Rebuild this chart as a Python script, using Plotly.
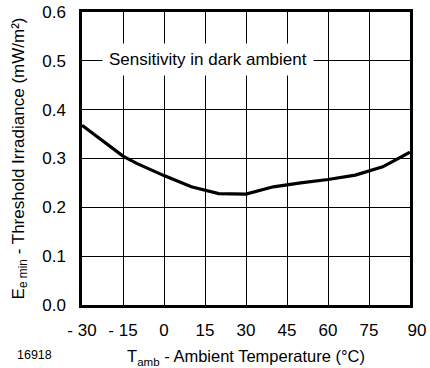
import plotly.graph_objects as go

temp_c = [-30, -20, -15, -10, 0, 10, 20, 30, 40, 50, 60, 70, 80, 90]
threshold_irradiance = [0.368, 0.325, 0.305, 0.290, 0.265, 0.242, 0.228, 0.227, 0.242, 0.250, 0.257, 0.266, 0.283, 0.313]

x_tickvals = [-30, -15, 0, 15, 30, 45, 60, 75, 90]
x_ticktext = ["- 30", "- 15", "0", "15", "30", "45", "60", "75", "\u00a0\u00a0\u00a090"]
y_tickvals = [0.0, 0.1, 0.2, 0.3, 0.4, 0.5, 0.6]
y_ticktext = ["0.0", "0.1", "0.2", "0.3", "0.4", "0.5", "0.6"]

FONT = "Liberation Sans, Arial, sans-serif"

fig = go.Figure()
fig.add_trace(go.Scatter(x=temp_c, y=threshold_irradiance, mode="lines",
                         line=dict(color="black", width=3.2, shape="linear"),
                         showlegend=False, hoverinfo="skip"))

fig.update_layout(
    width=430, height=368,
    margin=dict(l=82, r=20, t=12, b=63, autoexpand=False),
    paper_bgcolor="white", plot_bgcolor="white",
    font=dict(family=FONT, size=17, color="black"),
    xaxis=dict(range=[-30, 90], tickvals=x_tickvals, ticktext=x_ticktext,
               showgrid=True, gridcolor="black", gridwidth=1.4,
               showline=True, linecolor="black", linewidth=2.5, mirror=True,
               ticks="", ticklabelstandoff=8, zeroline=False, automargin=False,
               title=dict(text="T<sub>amb</sub> - Ambient Temperature (°C)",
                          font=dict(size=16.5), standoff=12),
               tickfont=dict(size=17)),
    yaxis=dict(range=[0, 0.6], tickvals=y_tickvals, ticktext=y_ticktext,
               showgrid=True, gridcolor="black", gridwidth=1.4,
               showline=True, linecolor="black", linewidth=2.5, mirror=True,
               ticks="", ticklabelstandoff=10, zeroline=False, automargin=False,
               title=dict(text="E<sub>e min</sub> - Threshold Irradiance (mW/m²)",
                          font=dict(size=17), standoff=14),
               tickfont=dict(size=17)),
    annotations=[
        dict(x=16, y=0.503, xref="x", yref="y", text="Sensitivity in dark ambient",
             showarrow=False, bgcolor="white", borderpad=6,
             font=dict(size=17, family=FONT)),
        dict(x=-0.205, y=-0.17, xref="paper", yref="paper", text="16918",
             showarrow=False, xanchor="left", yanchor="middle",
             font=dict(size=12.5, family=FONT)),
    ],
)

fig.write_html("out.html")
